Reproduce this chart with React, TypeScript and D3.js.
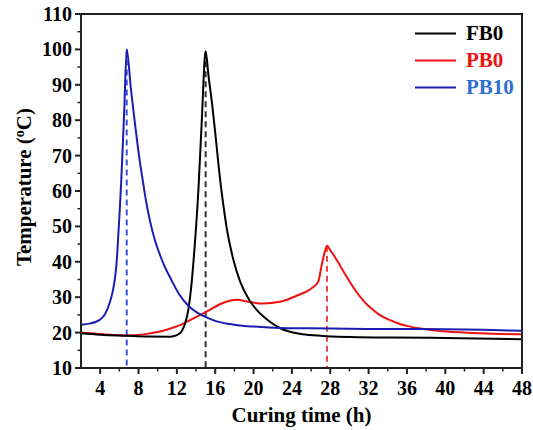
import React from "react";
import * as d3 from "d3";

const fb0X = [2, 4, 6.77, 9, 11.3, 12.0, 12.5, 12.85, 13.2, 13.5, 13.9, 14.24, 14.6, 15.0, 15.3, 15.7, 16.0, 16.5, 16.9, 17.2, 17.9, 18.6, 19.6, 20.3, 21, 22, 22.75, 24.5, 27.6, 34.2, 40, 48];
const fb0Y = [19.8, 19.4, 19.1, 18.9, 18.85, 19.3, 20.4, 22.5, 26.5, 33, 46, 60, 80, 99.5, 92.5, 84, 76.5, 63.5, 55, 49.5, 40.5, 34.4, 29, 26.5, 24.6, 22.5, 21.3, 19.8, 19.0, 18.6, 18.5, 18.1];

const pb0X = [2, 4, 6.77, 8.5, 10.24, 11.5, 12.33, 13.72, 15.1, 16.5, 17.5, 18.3, 19.3, 21.0, 22.75, 24.5, 26.05, 26.75, 27.1, 27.4, 27.66, 28.0, 28.5, 29.0, 29.5, 30, 30.7, 31.4, 32.2, 33.1, 34, 34.9, 36, 37.3, 38.5, 40.1, 43.6, 48];
const pb0Y = [20.0, 19.6, 19.2, 19.5, 20.3, 21.3, 22.1, 24, 25.9, 28.0, 29.0, 29.3, 28.8, 28.2, 28.7, 30.4, 32.5, 34.4, 39, 42.5, 44.5, 43.3, 41.3, 39, 36.7, 34.5, 31.6, 29.2, 27, 25.1, 23.8, 22.8, 21.9, 21.2, 20.7, 20.3, 19.8, 19.5];

const pb10X = [2, 3, 3.5, 4, 4.5, 5.0, 5.3, 5.55, 5.75, 5.9, 6.05, 6.2, 6.5, 6.77, 7.2, 7.63, 8.1, 8.5, 8.7, 9.2, 9.72, 10.3, 10.76, 11.4, 12.2, 13.2, 14.2, 14.93, 16, 17.5, 18.6, 20, 22.7, 26, 30, 34, 38, 42, 45, 48];
const pb10Y = [22.2, 22.6, 23.0, 23.7, 25.2, 28.5, 31.5, 35.5, 41, 48, 55, 63, 82, 100, 89, 79, 69, 62, 58.5, 51.5, 46, 41.5, 38.5, 35, 31, 27.6, 25.5, 24.5, 23.3, 22.4, 22.0, 21.7, 21.3, 21.2, 21.1, 21.0, 21.0, 20.9, 20.7, 20.5];

const seriesNames = ["FB0", "PB0", "PB10"];
const lineColors = ["#000000", "#ee1111", "#1c1cb0"];
const legendTextColors = ["#000000", "#ee1111", "#2f6fd0"];
const dashColors = ["#333333", "#e84848", "#3a55d8"];
const peakX = [15.0, 27.66, 6.77];
const peakY = [99.5, 44.5, 100];

const xTicks = [4, 8, 12, 16, 20, 24, 28, 32, 36, 40, 44, 48];
const yTicks = [10, 20, 30, 40, 50, 60, 70, 80, 90, 100, 110];

const W = 533, H = 430;
const L = 81, R = 522, T = 14, B = 368;
const FONT = "'Liberation Serif', 'Times New Roman', serif";

export default function App() {
  const x = d3.scaleLinear().domain([2, 48]).range([L, R]);
  const y = d3.scaleLinear().domain([10, 110]).range([B, T]);
  const line = d3
    .line<[number, number]>()
    .x((d) => x(d[0]))
    .y((d) => y(d[1]))
    .curve(d3.curveMonotoneX);

  const series = [
    fb0X.map((v, i) => [v, fb0Y[i]] as [number, number]),
    pb0X.map((v, i) => [v, pb0Y[i]] as [number, number]),
    pb10X.map((v, i) => [v, pb10Y[i]] as [number, number]),
  ];

  const xMinor = d3.range(2, 49, 2).filter((v) => !xTicks.includes(v) && v > 2);
  const yMinor = d3.range(15, 110, 10);

  return (
    <svg width={W} height={H} style={{ position: "absolute", left: 0, top: 0, background: "#fff" }}>
      <rect x={0} y={0} width={W} height={H} fill="#fff" />
      {peakX.map((px, i) => (
        <line key={"d" + i} x1={x(px)} x2={x(px)} y1={y(peakY[i])} y2={B}
          stroke={dashColors[i]} strokeWidth={2} strokeDasharray="6,4" />
      ))}
      {[1, 0, 2].map((i) => (
        <path key={"s" + i} d={line(series[i]) || ""} fill="none" stroke={lineColors[i]} strokeWidth={2} strokeLinejoin="round" />
      ))}
      <rect x={L} y={T} width={R - L} height={B - T} fill="none" stroke="#222" strokeWidth={2} />
      {yTicks.map((t) => (
        <g key={"yt" + t}>
          <line x1={L - 6} x2={L} y1={y(t)} y2={y(t)} stroke="#222" strokeWidth={2} />
          <text x={L - 9} y={y(t)} dy="0.35em" textAnchor="end" fontFamily={FONT} fontWeight="bold" fontSize={20}>{t}</text>
        </g>
      ))}
      {yMinor.map((t) => (
        <line key={"ym" + t} x1={L - 3.5} x2={L} y1={y(t)} y2={y(t)} stroke="#222" strokeWidth={1.5} />
      ))}
      {xTicks.map((t) => (
        <g key={"xt" + t}>
          <line x1={x(t)} x2={x(t)} y1={B} y2={B + 6} stroke="#222" strokeWidth={2} />
          <text x={x(t)} y={395} textAnchor="middle" fontFamily={FONT} fontWeight="bold" fontSize={20}>{t}</text>
        </g>
      ))}
      {xMinor.map((t) => (
        <line key={"xm" + t} x1={x(t)} x2={x(t)} y1={B} y2={B + 3.5} stroke="#222" strokeWidth={1.5} />
      ))}
      <text x={(L + R) / 2} y={422} textAnchor="middle" fontFamily={FONT} fontWeight="bold" fontSize={21}>Curing time (h)</text>
      <text transform={`translate(31, ${(T + B) / 2 - 4}) rotate(-90)`} textAnchor="middle" fontFamily={FONT} fontWeight="bold" fontSize={21}>
        Temperature (<tspan fontSize={14} dy={-7}>o</tspan><tspan dy={7}>C)</tspan>
      </text>
      {seriesNames.map((n, i) => (
        <g key={"lg" + n}>
          <line x1={415} x2={456} y1={33.5 + i * 27} y2={33.5 + i * 27} stroke={lineColors[i]} strokeWidth={2} />
          <text x={466} y={40 + i * 27} fontFamily={FONT} fontWeight="bold" fontSize={21} fill={legendTextColors[i]}>{n}</text>
        </g>
      ))}
    </svg>
  );
}
